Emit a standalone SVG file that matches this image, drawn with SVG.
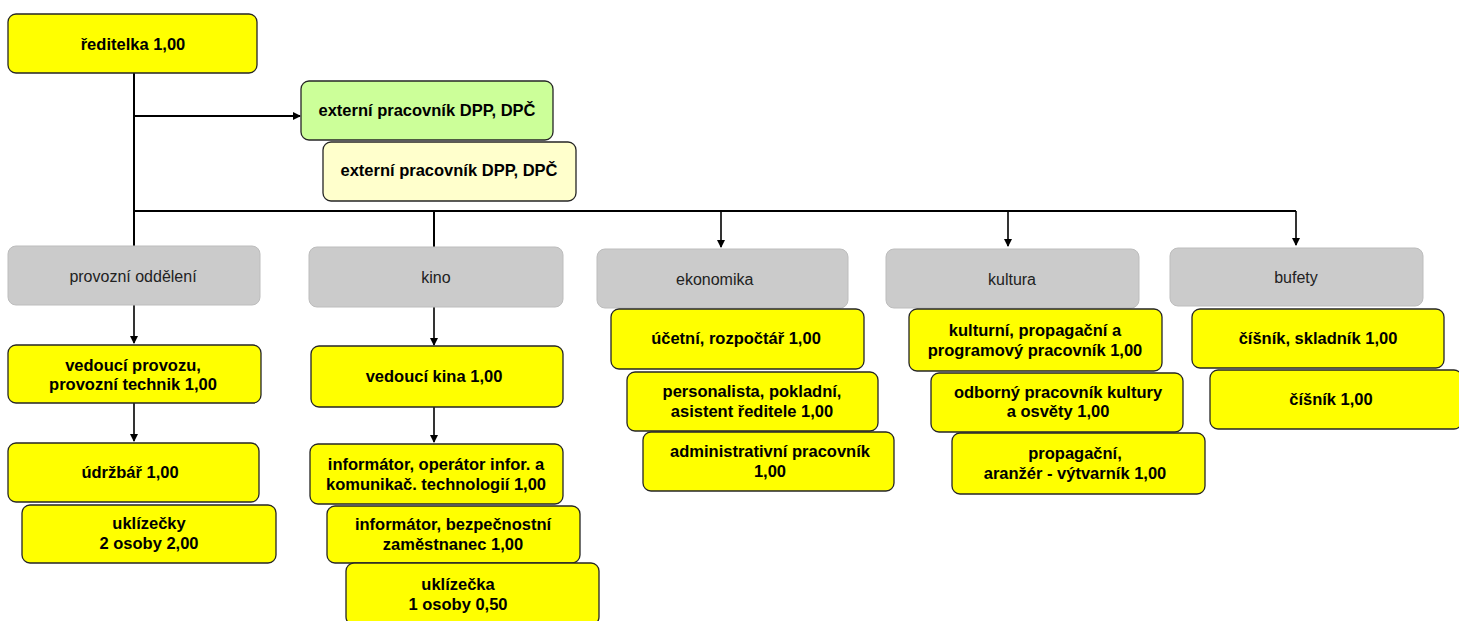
<svg xmlns="http://www.w3.org/2000/svg" width="1459" height="621" viewBox="0 0 1459 621">
<defs>
<style>
.y{fill:#ffff00;stroke:#262626;stroke-width:1.3}
.g{fill:#cbcbcb;stroke:#bdbdbd;stroke-width:1}
.gr{fill:#ccff99;stroke:#262626;stroke-width:1.3}
.cr{fill:#ffffcc;stroke:#262626;stroke-width:1.3}
text{font-family:"Liberation Sans",Arial,sans-serif;font-size:16.5px;text-anchor:middle;fill:#000}
.b{font-weight:bold}
.n{fill:#222;font-size:16px}
.c{fill:none;stroke:#000;stroke-width:2}
.a{fill:none;stroke:#000;stroke-width:1.6}
</style>
<marker id="ah" markerWidth="8" markerHeight="8" refX="7" refY="4" orient="auto" markerUnits="userSpaceOnUse">
<path d="M0,0 L8,4 L0,8 Z" fill="#000"/>
</marker>
</defs>
<rect width="1459" height="621" fill="#fff"/>
<g id="connectors">
<path class="c" d="M134,73 V246"/>
<path class="c" d="M134,116 H300" marker-end="url(#ah)"/>
<path class="c" d="M134,211 H1296"/>
<path class="c" d="M434,211 V247"/>
<path class="a" d="M721,211 V247" marker-end="url(#ah)"/>
<path class="a" d="M1008,211 V246" marker-end="url(#ah)"/>
<path class="a" d="M1296,211 V245" marker-end="url(#ah)"/>
<path class="a" d="M134,305 V343" marker-end="url(#ah)"/>
<path class="a" d="M134,403 V441" marker-end="url(#ah)"/>
<path class="a" d="M434,307 V345" marker-end="url(#ah)"/>
<path class="a" d="M434,407 V442" marker-end="url(#ah)"/>
</g>
<g id="reditelka"><rect class="y" x="8" y="14" width="249" height="59" rx="8"/><text class="b" x="133" y="50">ředitelka  1,00</text></g>
<g id="externi1"><rect class="gr" x="301" y="81" width="252" height="59" rx="8"/><text class="b" x="427" y="116">externí pracovník DPP,  DPČ</text></g>
<g id="externi2"><rect class="cr" x="323" y="142" width="253" height="59" rx="8"/><text class="b" x="449" y="176">externí pracovník DPP,  DPČ</text></g>

<g id="provozni"><rect class="g" x="8" y="246" width="252" height="59" rx="8"/><text class="n" x="133" y="282">provozní  oddělení</text></g>
<g id="kino"><rect class="g" x="309" y="247" width="254" height="60" rx="8"/><text class="n" x="436" y="283">kino</text></g>
<g id="ekonomika"><rect class="g" x="597" y="249" width="251" height="59" rx="8"/><text class="n" x="676" y="285" style="text-anchor:start">ekonomika</text></g>
<g id="kultura"><rect class="g" x="886" y="249" width="253" height="59" rx="8"/><text class="n" x="1012" y="285">kultura</text></g>
<g id="bufety"><rect class="g" x="1170" y="248" width="253" height="58" rx="8"/><text class="n" x="1296" y="283">bufety</text></g>

<g id="vedouci-provozu"><rect class="y" x="8" y="345" width="253" height="58" rx="8"/><text class="b" x="133" y="371">vedoucí  provozu,</text><text class="b" x="133" y="390">provozní  technik 1,00</text></g>
<g id="udrzbar"><rect class="y" x="8" y="443" width="251" height="59" rx="8"/><text class="b" x="130" y="478">údržbář 1,00</text></g>
<g id="uklizecky"><rect class="y" x="22" y="505" width="254" height="58" rx="8"/><text class="b" x="149" y="529">uklízečky</text><text class="b" x="149" y="549">2 osoby  2,00</text></g>

<g id="vedouci-kina"><rect class="y" x="311" y="346" width="252" height="61" rx="8"/><text class="b" x="434" y="382">vedoucí  kina 1,00</text></g>
<g id="informator1"><rect class="y" x="310" y="444" width="253" height="60" rx="8"/><text class="b" x="436" y="470">informátor, operátor infor. a</text><text class="b" x="436" y="490">komunikač. technologií  1,00</text></g>
<g id="informator2"><rect class="y" x="327" y="506" width="253" height="57" rx="8"/><text class="b" x="453" y="530">informátor, bezpečnostní</text><text class="b" x="453" y="550">zaměstnanec 1,00</text></g>
<g id="uklizecka"><rect class="y" x="346" y="563" width="253" height="62" rx="8"/><text class="b" x="458" y="590">uklízečka</text><text class="b" x="458" y="610">1 osoby  0,50</text></g>

<g id="ucetni"><rect class="y" x="611" y="309" width="253" height="60" rx="8"/><text class="b" x="736" y="344">účetní, rozpočtář  1,00</text></g>
<g id="personalista"><rect class="y" x="627" y="372" width="251" height="59" rx="8"/><text class="b" x="752" y="397">personalista, pokladní,</text><text class="b" x="752" y="417">asistent ředitele 1,00</text></g>
<g id="administrativni"><rect class="y" x="643" y="432" width="251" height="59" rx="8"/><text class="b" x="770" y="457">administrativní  pracovník</text><text class="b" x="770" y="477">1,00</text></g>

<g id="kulturni"><rect class="y" x="909" y="309" width="253" height="62" rx="8"/><text class="b" x="1035" y="336">kulturní,  propagační a</text><text class="b" x="1035" y="356">programový  pracovník 1,00</text></g>
<g id="odborny"><rect class="y" x="931" y="373" width="252" height="59" rx="8"/><text class="b" x="1058" y="398">odborný  pracovník kultury</text><text class="b" x="1058" y="417">a osvěty  1,00</text></g>
<g id="propagacni"><rect class="y" x="952" y="433" width="253" height="61" rx="8"/><text class="b" x="1075" y="459">propagační,</text><text class="b" x="1075" y="479">aranžér - výtvarník  1,00</text></g>

<g id="cisnik-skladnik"><rect class="y" x="1192" y="309" width="252" height="59" rx="8"/><text class="b" x="1318" y="344">číšník, skladník 1,00</text></g>
<g id="cisnik"><rect class="y" x="1210" y="370" width="252" height="59" rx="8"/><text class="b" x="1331" y="405">číšník 1,00</text></g>
</svg>
